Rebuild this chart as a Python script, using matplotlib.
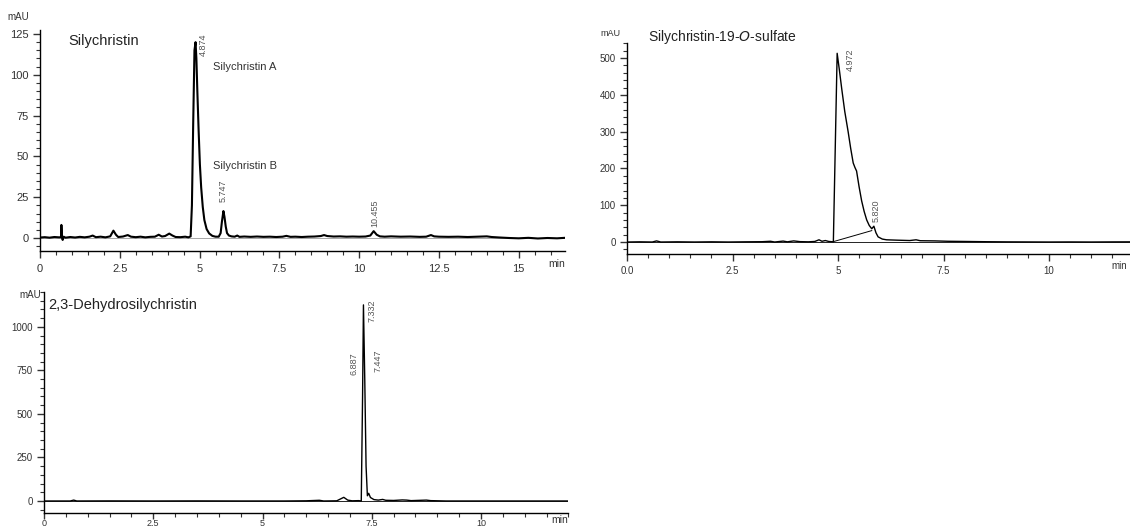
import numpy as np
import matplotlib
matplotlib.use("Agg")
import matplotlib.pyplot as plt
from matplotlib.ticker import MultipleLocator

plt.rcParams['font.family'] = ['Liberation Sans', 'DejaVu Sans']

# ---- Silychristin (top left) ----
sc_t = [0.00, 0.15, 0.30, 0.45, 0.60, 0.66, 0.67, 0.69, 0.71, 0.74, 0.80, 0.95, 1.10, 1.25,
        1.40, 1.55, 1.65, 1.75, 1.90, 2.05, 2.20, 2.30, 2.38, 2.45, 2.60, 2.75, 2.85, 3.00,
        3.15, 3.30, 3.45, 3.60, 3.72, 3.82, 3.92, 4.05, 4.15, 4.25, 4.40, 4.55, 4.65, 4.72,
        4.76, 4.80, 4.84, 4.874, 4.90, 4.93, 4.97, 5.01, 5.05, 5.10, 5.15, 5.22, 5.30, 5.40,
        5.50, 5.60, 5.66, 5.70, 5.747, 5.78, 5.82, 5.86, 5.92, 6.00, 6.10, 6.18, 6.25, 6.40,
        6.60, 6.80, 7.00, 7.20, 7.40, 7.60, 7.72, 7.85, 8.00, 8.20, 8.40, 8.60, 8.80, 8.90,
        9.00, 9.20, 9.40, 9.60, 9.80, 10.00, 10.20, 10.35, 10.455, 10.55, 10.65, 10.80, 11.00,
        11.30, 11.60, 11.90, 12.10, 12.25, 12.35, 12.50, 12.80, 13.10, 13.40, 13.70, 14.00,
        14.15, 14.40, 14.70, 15.00, 15.30, 15.60, 15.90, 16.20, 16.45]
sc_y = [0.3, 0.5, 0.2, 0.6, 0.4, 0.5, 8.0, 0.3, -1.2, 0.8, 0.2, 0.6, 0.3, 0.7,
        0.4, 0.8, 1.5, 0.5, 0.8, 0.4, 1.0, 4.5, 2.0, 0.6, 0.9, 1.8, 0.8, 0.5,
        0.8, 0.4, 0.7, 0.8, 2.0, 0.9, 1.2, 2.7, 1.5, 0.6, 0.5, 0.8, 0.4, 1.0,
        20, 70, 115, 120, 110, 90, 66, 45, 31, 19, 11, 5.5, 2.8, 1.3,
        0.8, 0.8, 3, 10, 16.5, 13, 7, 3, 1.5, 1.0, 0.8, 1.5, 0.7, 0.9,
        0.7, 0.9, 0.7, 0.8, 0.6, 0.8, 1.3, 0.7, 0.8, 0.6, 0.8, 0.9, 1.2, 1.8,
        1.2, 0.9, 1.0, 0.8, 0.9, 0.8, 0.9, 1.5, 4.2, 2.0, 1.0, 0.8, 1.0,
        0.8, 0.9, 0.7, 0.8, 1.8, 1.0, 0.8, 0.7, 0.8, 0.6, 0.8, 1.0,
        0.6, 0.3, 0.0, -0.2, 0.1, -0.3, 0.0, -0.2, 0.1]
sc_xticks = [0, 2.5, 5, 7.5, 10, 12.5, 15]
sc_xlabels = ["0", "2.5", "5", "7.5", "10", "12.5", "15"]
sc_yticks = [0, 25, 50, 75, 100, 125]
sc_peaks = ["4.874", "5.747", "10.455"]
sc_peak_pos = [(5.11, 125.5, 'top'), (5.75, 22, 'bottom'), (10.48, 6.7, 'bottom')]
sc_names = ["Silychristin A", "Silychristin B"]
sc_name_pos = [(5.42, 105), (5.42, 44)]

# ---- Silychristin-19-O-sulfate (top right) ----
ss_t = [0.00, 0.30, 0.60, 0.70, 0.80, 1.2, 1.6, 2.0, 2.4, 2.8, 3.2, 3.4, 3.5, 3.7, 3.8,
        3.95, 4.1, 4.3, 4.45, 4.55, 4.62, 4.70, 4.78, 4.89, 4.98, 5.03, 5.09, 5.16, 5.24,
        5.30, 5.36, 5.40, 5.44, 5.50, 5.56, 5.62, 5.68, 5.74, 5.80, 5.85, 5.90, 5.95, 6.05,
        6.15, 6.40, 6.70, 6.85, 6.95, 7.3, 7.6, 8.0, 8.5, 9.0, 9.5, 10.0, 10.5, 11.0, 11.5,
        12.2]
ss_y = [0, 0.5, 0, 3, 0, 0.5, 0, 0.5, 0, 0.5, 0.8, 2, 0, 2.5, 0.5,
        3, 1, 0.5, 1.5, 6, 2, 4, 1.5, 0.5, 513, 470, 415, 355, 300,
        255, 215, 203, 193, 150, 112, 83, 60, 45, 36, 43, 25, 14, 8,
        6, 5, 4, 6, 3.5, 3, 2, 1.5, 0.8, 0.4, 0.2, 0, 0.2, 0, 0.3,
        0.5]
ss_base_t = [4.89, 5.80]
ss_base_y = [1, 31]
ss_xticks = [0, 2.5, 5, 7.5, 10]
ss_xlabels = ["0.0", "2.5", "5", "7.5", "10"]
ss_yticks = [0, 100, 200, 300, 400, 500]
ss_peaks = ["4.972", "5.820"]
ss_peak_pos = [(5.28, 527, 'top'), (5.90, 54, 'bottom')]

# ---- 2,3-Dehydrosilychristin (bottom left) ----
dh_t = [0.0, 0.6, 0.68, 0.75, 1.5, 2.5, 3.5, 4.5, 5.5, 6.0, 6.3, 6.4, 6.7, 6.86, 6.95,
        7.05, 7.2, 7.26, 7.29, 7.31, 7.34, 7.37, 7.40, 7.43, 7.47, 7.55, 7.65, 7.75, 7.82,
        8.0, 8.2, 8.3, 8.4, 8.75, 8.85, 9.2, 10.0, 11.0, 12.0]
dh_y = [0, 0, 5, 0, 0.5, 0, 0.5, 0, 0, 1, 4, 0, 1, 21, 5,
        1, 2, 0, 600, 1126, 700, 200, 30, 44, 20, 8, 5, 9, 4,
        3, 6, 5, 2, 5, 2, 0, 0, 0, 0]
dh_xticks = [0, 2.5, 5, 7.5, 10]
dh_xlabels = ["0", "2.5", "5", "7.5", "10"]
dh_yticks = [0, 250, 500, 750, 1000]
dh_peaks = ["7.332", "6.887", "7.447"]
dh_peak_pos = [(7.51, 1155, 'top'), (7.10, 856, 'top'), (7.64, 868, 'top')]

W, H = 1130, 528
fig = plt.figure(figsize=(W / 100, H / 100), dpi=100)

def px(x0, y_top, x1, y_bot):
    return [x0 / W, 1 - y_bot / H, (x1 - x0) / W, (y_bot - y_top) / H]

def style(ax, xticks, xlabels, yticks, xminor, yminor, fs, xpad=4, xfs=None, xlen=5):
    for s in ['top', 'right']:
        ax.spines[s].set_visible(False)
    for s in ['left', 'bottom']:
        ax.spines[s].set_linewidth(1.0)
    ax.set_xticks(xticks)
    ax.set_xticklabels(xlabels)
    ax.set_yticks(yticks)
    ax.xaxis.set_minor_locator(MultipleLocator(xminor))
    ax.yaxis.set_minor_locator(MultipleLocator(yminor))
    ax.tick_params(which='major', length=5, width=1.0, labelsize=fs, colors='#333333', pad=3)
    ax.tick_params(which='minor', length=3, width=0.8, colors='#333333')
    ax.tick_params(axis='x', which='major', pad=xpad, length=xlen,
                   labelsize=xfs if xfs else fs)

lab_kw = dict(rotation=90, ha='center', fontsize=6.5, color='#555555')

# top left
ax1 = fig.add_axes(px(40, 30, 565, 251))
ax1.axhline(0, color='#999999', lw=0.6)
ax1.plot(sc_t, sc_y, color='black', lw=1.5)
ax1.set_xlim(0, 16.45)
ax1.set_ylim(-7.97, 127.45)
style(ax1, sc_xticks, sc_xlabels, sc_yticks, 0.5, 5, 8)
ax1.text(0.88, 121, "Silychristin", fontsize=10.5, va='center', color='#222222')
for name, (x, y) in zip(sc_names, sc_name_pos):
    ax1.text(x, y, name, fontsize=8, va='center', color='#333333')
for lab, (x, y, va) in zip(sc_peaks, sc_peak_pos):
    ax1.text(x, y, lab, va=va, **lab_kw)
fig.text(18 / W, 1 - 17 / H, "mAU", fontsize=7, ha='center', va='center', color='#333333')
fig.text(557 / W, 1 - 264 / H, "min", fontsize=7.5, ha='center', va='center', color='#333333')

# top right
ax2 = fig.add_axes(px(627, 43, 627 + 12.2 * 42.2, 254))
ax2.axhline(0, color='black', lw=0.6)
ax2.plot(ss_t, ss_y, color='black', lw=1.0)
ax2.plot(ss_base_t, ss_base_y, color='black', lw=0.7)
ax2.set_xlim(0, 12.2)
ax2.set_ylim(-32.6, 541)
style(ax2, ss_xticks, ss_xlabels, ss_yticks, 0.5, 20, 7)
ax2.text(0.5, 556, "Silychristin-19-$\\it{O}$-sulfate", fontsize=10, va='center',
         color='#222222', clip_on=False)
for lab, (x, y, va) in zip(ss_peaks, ss_peak_pos):
    ax2.text(x, y, lab, va=va, **lab_kw)
fig.text(610 / W, 1 - 33 / H, "mAU", fontsize=6.5, ha='center', va='center', color='#333333')
fig.text(1127 / W, 1 - 266 / H, "min", fontsize=7, ha='right', va='center', color='#333333')

# bottom left
ax3 = fig.add_axes(px(44, 292, 44 + 12.0 * 43.7, 513))
ax3.axhline(0, color='black', lw=0.6)
ax3.plot(dh_t, dh_y, color='black', lw=1.0)
ax3.set_xlim(0, 12.0)
ax3.set_ylim(-69, 1200)
style(ax3, dh_xticks, dh_xlabels, dh_yticks, 0.5, 50, 7, xpad=0.5, xfs=6.5, xlen=4)
ax3.text(0.09, 1126, "2,3-Dehydrosilychristin", fontsize=10.5, va='center', color='#222222')
for lab, (x, y, va) in zip(dh_peaks, dh_peak_pos):
    ax3.text(x, y, lab, va=va, **lab_kw)
fig.text(30 / W, 1 - 295 / H, "mAU", fontsize=7, ha='center', va='center', color='#333333')
fig.text(560 / W, 1 - 520 / H, "min", fontsize=7.5, ha='center', va='center', color='#333333')

fig.savefig("out.png", dpi=100, facecolor='white')
